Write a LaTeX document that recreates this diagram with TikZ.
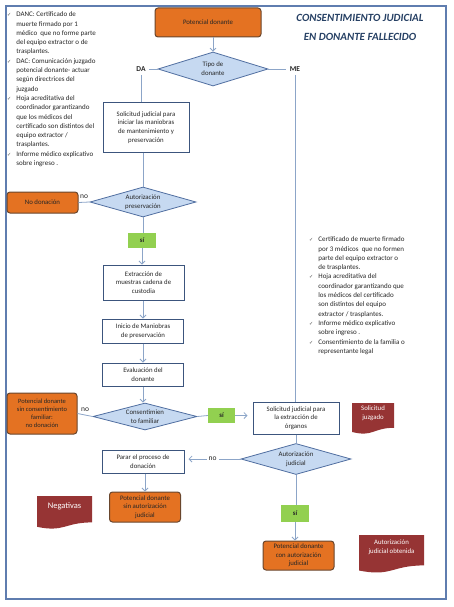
\documentclass[tikz,border=0pt]{standalone}
\usepackage{fontspec}
\setmainfont{Carlito}
\newfontfamily\symfont{DejaVu Sans}
\usetikzlibrary{shapes.geometric,arrows.meta,calc}

\definecolor{orangebox}{RGB}{228,114,34}
\definecolor{orangeline}{RGB}{105,70,45}
\definecolor{diamfill}{RGB}{198,217,241}
\definecolor{diamline}{RGB}{80,110,160}
\definecolor{sigreen}{RGB}{146,208,80}
\definecolor{docred}{RGB}{150,52,52}
\definecolor{boxline}{RGB}{60,85,125}
\definecolor{connline}{RGB}{140,165,200}
\definecolor{framecol}{RGB}{95,125,175}
\definecolor{titlecol}{RGB}{38,64,100}

\newcommand*{\chk}{{\symfont\fontsize{5}{5}\selectfont\color{black!70}✓}}
\newcommand*{\fw}{446}
\newcommand*{\fh}{599}

\begin{document}
\begin{tikzpicture}
[
	x=1pt, y=-1pt,
	every node/.style={font=\fontsize{6.8}{8.7}\selectfont, text=black!85},
	procbox/.style={draw=boxline, line width=1pt, fill=white, align=center, inner sep=1pt},
	endbox/.style={draw=orangeline, line width=1pt, fill=orangebox, rounded corners=3pt, align=center, inner sep=1pt},
	decision/.style={diamond, draw=diamline, line width=0.8pt, fill=diamfill, align=center, inner sep=0pt, aspect=3},
	sibox/.style={fill=sigreen, font=\fontsize{6.8}{8}\selectfont\bfseries, minimum width=28pt, minimum height=15pt},
	docbox/.style={text=white, align=center, inner sep=1pt,
		path picture={
			\fill[docred] let \p1=(path picture bounding box.south west),
				\p2=(path picture bounding box.north east), \n1={\y2-\y1} in
				(\x1,\y2) -- (\x2,\y2) -- (\x2,{\y2-0.80*\n1})
				.. controls ({0.5*(\x1+\x2)},{\y2-0.80*\n1}) and ({0.5*(\x1+\x2)},{\y2-1.107*\n1})
				.. (\x1,{\y2-0.934*\n1}) -- cycle;
		}},
	conn/.style={draw=connline, line width=0.8pt},
	arr/.style={conn, -{Straight Barb[length=3pt,width=6pt]}},
	lbl/.style={font=\fontsize{7.5}{9}\selectfont},
	branch/.style={font=\fontsize{7.5}{9}\selectfont\bfseries},
	bullets/.style={font=\fontsize{7}{9.3}\selectfont, inner sep=0pt, anchor=north west},
]

	\useasboundingbox (0,0) rectangle (453,607);

	% frame
	\draw[framecol, line width=1.2pt] (6,6) rectangle (\fw,\fh);

	% title
	\node[font=\fontsize{11}{18.5}\selectfont\bfseries\itshape, text=titlecol, align=center] (titulo)
		at (360,27.5) {CONSENTIMIENTO JUDICIAL\\EN DONANTE FALLECIDO};

	% requirements
	\node[bullets] (reqda) at (7,10) {%
		\begin{tabular}{@{}l@{\hspace{5pt}}l@{}}
		\chk & DANC: Certificado de\\
		     & muerte firmado por 1\\
		     & médico\ \ que no forme parte\\
		     & del equipo extractor o de\\
		     & trasplantes.\\
		\chk & DAC: Comunicación juzgado\\
		     & potencial donante- actuar\\
		     & según directrices del\\
		     & juzgado\\
		\chk & Hoja acreditativa del\\
		     & coordinador garantizando\\
		     & que los médicos del\\
		     & certificado son distintos del\\
		     & equipo extractor /\\
		     & trasplantes.\\
		\chk & Informe médico explicativo\\
		     & sobre ingreso .
		\end{tabular}};
	\node[bullets] (reqme) at (309,235) {%
		\begin{tabular}{@{}l@{\hspace{5pt}}l@{}}
		\chk & Certificado de muerte firmado\\
		     & por 3 médicos\ \ que no formen\\
		     & parte del equipo extractor o\\
		     & de trasplantes.\\
		\chk & Hoja acreditativa del\\
		     & coordinador garantizando que\\
		     & los médicos del certificado\\
		     & son distintos del equipo\\
		     & extractor / trasplantes.\\
		\chk & Informe médico explicativo\\
		     & sobre ingreso .\\
		\chk & Consentimiento de la familia o\\
		     & representante legal
		\end{tabular}};

	% start
	\node[endbox, minimum width=106pt, minimum height=29pt] (potencial) at (208,22.5) {Potencial donante};
	\node[decision, minimum width=110pt, minimum height=34pt] (tipo) at (213,69) {Tipo de\\donante};
	\node[branch] (da) at (141,69) {DA};
	\node[branch] (me) at (295,69) {ME};

	% DA branch
	\node[procbox, minimum width=86pt, minimum height=49pt] (solpres) at (146,127.5)
		{Solicitud judicial para\\iniciar las maniobras\\de mantenimiento y\\preservación};
	\node[decision, minimum width=106pt, minimum height=30pt] (pres) at (143,202) {Autorización\\preservación};
	\node[endbox, minimum width=71pt, minimum height=21pt] (nodon) at (42.5,202.5) {No donación};
	\node[sibox] (si1) at (142,240.5) {sí};
	\node[procbox, minimum width=81pt, minimum height=35pt] (ext) at (143.5,282.5)
		{Extracción de\\muestras cadena de\\custodia};
	\node[procbox, minimum width=81pt, minimum height=24pt] (ini) at (143,331) {Inicio de Maniobras\\de preservación};
	\node[procbox, minimum width=81pt, minimum height=23pt] (eval) at (143,374.5) {Evaluación del\\donante};
	\node[decision, minimum width=104pt, minimum height=27pt] (cons) at (145,416.5) {Consentimien\\to familiar};
	\node[endbox, minimum width=70pt, minimum height=41pt, font=\fontsize{6.5}{8}\selectfont] (sincons) at (42,413.5)
		{Potencial donante\\sin consentimiento\\familiar:\\no donación};
	\node[sibox, minimum width=27pt] (si2) at (221.5,415.5) {sí};

	% judicial request
	\node[procbox, minimum width=86pt, minimum height=32pt] (solext) at (296,418)
		{Solicitud judicial para\\la extracción de\\órganos};
	\node[docbox, minimum width=42pt, minimum height=31pt] (soljuz) at (373,418.5) {Solicitud\\juzgado\\[3pt]};
	\node[decision, minimum width=110pt, minimum height=31pt] (autj) at (296,459) {Autorización\\judicial};
	\node[procbox, minimum width=82pt, minimum height=23pt] (parar) at (143,461.5) {Parar el proceso de\\donación};
	\node[endbox, minimum width=71pt, minimum height=30pt] (sinaut) at (145,507)
		{Potencial donante\\sin autorización\\judicial};
	\node[docbox, minimum width=55pt, minimum height=33pt, font=\fontsize{8.5}{10}\selectfont] (neg) at (64.5,512.5)
		{Negativas\\[4pt]};
	\node[sibox, minimum height=17pt] (si3) at (295,513.5) {sí};
	\node[endbox, minimum width=71pt, minimum height=29pt] (conaut) at (298.5,555.5)
		{Potencial donante\\con autorización\\judicial};
	\node[docbox, minimum width=65pt, minimum height=38pt] (autobt) at (391.5,554)
		{Autorización\\judicial obtenida\\[6pt]};

	% connectors
	\draw[arr] (potencial.south -| tipo.north) -- (tipo.north);
	\draw[conn] (tipo.west) -- (da.east);
	\draw[conn] (da.south) -- (da.south |- solpres.north);
	\draw[conn] (tipo.east) -- (me.west);
	\draw[conn] (me.south) -- (me.south |- solext.north);
	\draw[conn] (solpres.south -| pres.north) -- (pres.north);
	\draw[conn] (pres.west) -- node[lbl, above] (nopres) {no} (nodon.east);
	\draw[conn] (pres.south) -- (pres.south |- si1.north);
	\draw[arr] (si1.south) -- (si1.south |- ext.north);
	\draw[arr] (ext.south -| ini.north) -- (ini.north);
	\draw[arr] (ini.south) -- (eval.north);
	\draw[arr] (eval.south) -- (eval.south |- cons.north);
	\draw[conn] (cons.west) -- node[lbl, above] (nocons) {no} (sincons.east);
	\draw[conn] (cons.east) -- (si2.west);
	\draw[arr, shorten >=5pt] (si2.east) -- (si2.east -| solext.west);
	\draw[conn] (solext.south) -- (autj.north);
	\draw[arr, shorten >=4pt] (autj.west) -- node[lbl, fill=white, inner sep=2pt] (noaut) {no} (autj.west -| parar.east);
	\draw[arr] (sinaut.north |- parar.south) -- (sinaut.north);
	\draw[conn] (autj.south) -- (autj.south |- si3.north);
	\draw[arr] (si3.south) -- (si3.south |- conaut.north);

\end{tikzpicture}
\end{document}
